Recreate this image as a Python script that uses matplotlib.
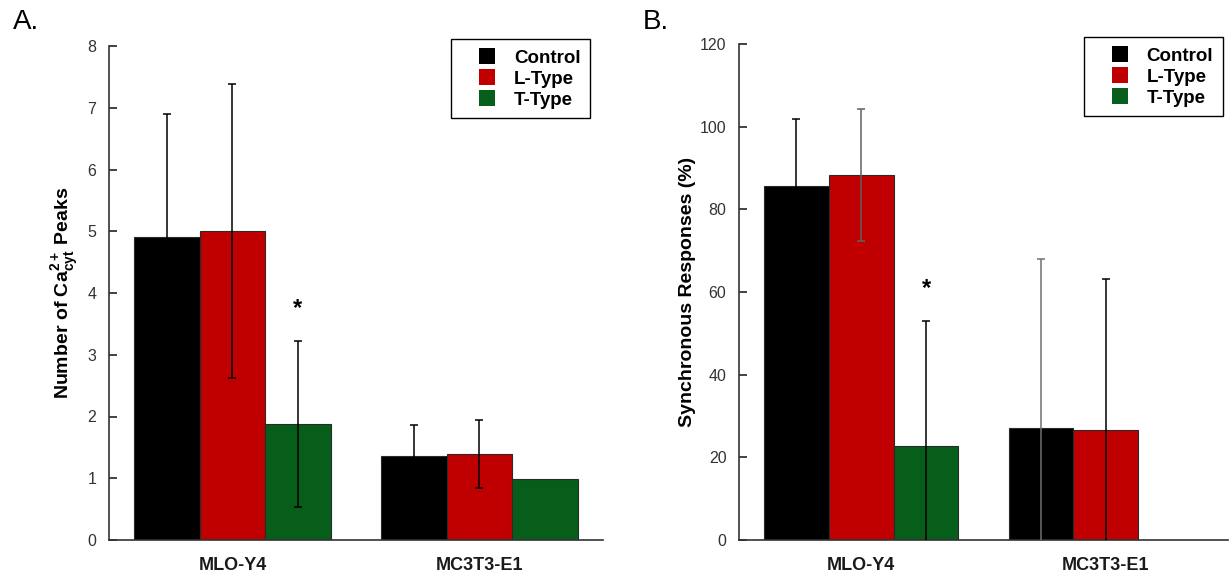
import numpy as np
import matplotlib
matplotlib.use("Agg")
import matplotlib.pyplot as plt
from matplotlib.patches import Rectangle
from matplotlib.legend_handler import HandlerPatch

plt.rcParams["font.family"] = ["Liberation Sans", "DejaVu Sans"]
plt.rcParams["mathtext.fontset"] = "custom"
plt.rcParams["mathtext.rm"] = "Liberation Sans"
plt.rcParams["mathtext.bf"] = "Liberation Sans:bold"

# ---- data -------------------------------------------------------------
cell_lines = ["MLO-Y4", "MC3T3-E1"]
treatments = ["Control", "L-Type", "T-Type"]
colors = ["#000000", "#C00000", "#075E1A"]

# Panel A: number of Ca2+ peaks (mean, SD); nan = no error bar
peaks_control = [4.90, 1.36]
peaks_control_sd = [2.00, 0.50]
peaks_ltype = [5.00, 1.39]
peaks_ltype_sd = [2.38, 0.55]
peaks_ttype = [1.88, 0.98]
peaks_ttype_sd = [1.35, np.nan]

# Panel B: synchronous responses in percent (mean, SD)
sync_control = [85.6, 27.0]
sync_control_sd = [16.3, 41.0]
sync_ltype = [88.3, 26.6]
sync_ltype_sd = [16.0, 36.5]
sync_ttype = [22.7, 0.0]
sync_ttype_sd = [30.3, np.nan]

# significance markers: (cell line index, treatment index)
peaks_signif = [(0, 2)]
sync_signif = [(0, 2)]

peaks_yticks = [0, 1, 2, 3, 4, 5, 6, 7, 8]
sync_yticks = [0, 20, 40, 60, 80, 100, 120]


def square_handle(legend, orig_handle, xdescent, ydescent, width, height, fontsize):
    side = 11.5
    return Rectangle((-xdescent + width - side, -ydescent + (height - side) / 2),
                     side, side)


def draw_panel(ax, means, sds, err_colors, signif, yticks, ylabel, letter, labelpad):
    x = np.arange(len(cell_lines))
    w = 0.265
    for i, (m, s, c) in enumerate(zip(means, sds, colors)):
        xs = x + (i - 1) * w
        ax.bar(xs, m, width=w, color=c, edgecolor="#2a2a2a", linewidth=0.8,
               zorder=2)
        for j in range(len(xs)):
            if np.isnan(s[j]):
                continue
            ax.errorbar(xs[j], m[j], yerr=s[j], fmt="none",
                        ecolor=err_colors[i][j], elinewidth=1.1, capsize=3,
                        capthick=1.1, zorder=3)
    for gi, ti in signif:
        xs = x[gi] + (ti - 1) * w
        top = means[ti][gi] + sds[ti][gi]
        ax.annotate("*", xy=(xs, top), xytext=(0, 23), textcoords="offset points",
                    ha="center", va="center", fontsize=17, fontweight="bold")

    ax.set_xlim(-0.5, 1.5)
    ax.set_ylim(yticks[0], yticks[-1])
    ax.set_yticks(yticks)
    ax.set_xticks(x)
    ax.set_xticklabels(cell_lines, fontsize=13, fontweight="bold", color="#1a1a1a")
    ax.tick_params(axis="x", length=0, pad=12)
    ax.tick_params(axis="y", direction="in", length=5.5, width=1.2, pad=9,
                   labelsize=11.5, labelcolor="#333333", color="#222222")
    for side in ("top", "right"):
        ax.spines[side].set_visible(False)
    for side in ("left", "bottom"):
        ax.spines[side].set_linewidth(1.2)
        ax.spines[side].set_color("#333333")
    ax.set_ylabel(ylabel, fontsize=14, fontweight="bold", labelpad=labelpad)

    ax.figure.text(ax.get_position().x0 - 0.078, 0.985, letter, fontsize=20,
                   ha="left", va="top")

    handles = [Rectangle((0, 0), 1, 1, facecolor=c, edgecolor="none") for c in colors]
    return handles


fig = plt.figure(figsize=(12.31, 5.75), dpi=100)
ax_a = fig.add_axes([109 / 1231, 35 / 575, 494 / 1231, 494 / 575])
ax_b = fig.add_axes([739 / 1231, 35 / 575, 489 / 1231, 496 / 575])

h_a = draw_panel(ax_a,
                 [peaks_control, peaks_ltype, peaks_ttype],
                 [peaks_control_sd, peaks_ltype_sd, peaks_ttype_sd],
                 [["#000000"] * 2] * 3,
                 peaks_signif, peaks_yticks,
                 r"Number of Ca$^{\mathbf{2+}}_{\mathbf{cyt}}$ Peaks", "A.", 5)
h_b = draw_panel(ax_b,
                 [sync_control, sync_ltype, sync_ttype],
                 [sync_control_sd, sync_ltype_sd, sync_ttype_sd],
                 [["#000000", "#707070"], ["#606060", "#000000"], ["#000000", "#000000"]],
                 sync_signif, sync_yticks,
                 "Synchronous Responses (%)", "B.", 3)

for ax, handles, (rx, ty) in ((ax_a, h_a, (590, 39.3)), (ax_b, h_b, (1222.7, 37.3))):
    leg = ax.legend(handles, treatments, loc="upper right",
                    bbox_to_anchor=(rx / 1231, 1 - ty / 575),
                    bbox_transform=fig.transFigure, borderaxespad=0,
                    prop={"weight": "bold", "size": 13.5},
                    handlelength=1.85, handleheight=0.85, handletextpad=1.0,
                    labelspacing=0.17, borderpad=0.5, fancybox=False,
                    framealpha=1, edgecolor="#000000",
                    handler_map={Rectangle: HandlerPatch(patch_func=square_handle)})
    leg.get_frame().set_linewidth(1.0)

fig.savefig("out.png", dpi=100)
